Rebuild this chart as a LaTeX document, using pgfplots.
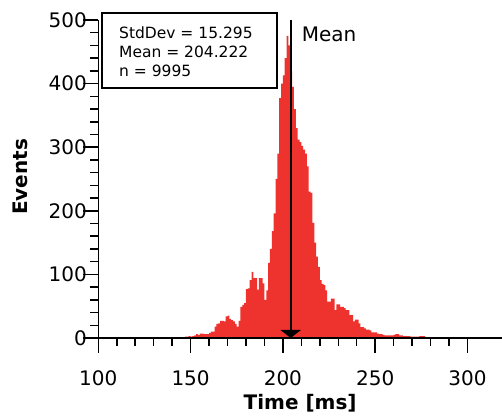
\documentclass[border=0pt]{standalone}
\usepackage{pgfplots}
\pgfplotsset{compat=1.18}
\usepackage{fontspec}
\setmainfont{DejaVu Sans}
\usetikzlibrary{arrows.meta}
\definecolor{histred}{RGB}{238,50,46}
\begin{document}
\begin{tikzpicture}
\begin{axis}[
  scale only axis,
  width=403.7pt, height=318pt,
  xmin=100, xmax=318.7, ymin=0, ymax=500,
  axis lines=left,
  axis line style={-, line width=1.5pt, black},
  every tick/.style={line width=1.5pt, black},
  tick align=outside,
  major tick length=15pt,
  minor tick length=8pt,
  xtick={100,150,200,250,300},
  ytick={0,100,200,300,400,500},
  minor x tick num=4,
  minor y tick num=4,
  /pgf/number format/assume math mode=true,
  tick label style={font=\fontsize{20}{24}\selectfont},
  xticklabel style={yshift=-14pt},
  yticklabel style={xshift=7pt},
  xlabel={Time [ms]},
  ylabel={Events},
  label style={font=\fontsize{20}{24}\selectfont\bfseries},
  xlabel style={at={([yshift=-72pt]axis description cs:0.5,0)}, anchor=base},
  ylabel style={at={([xshift=-71pt,yshift=2pt]axis description cs:0,0.5)}, anchor=base, rotate=0},
  clip=false,
  axis on top,
]
\addplot[const plot mark left, fill=histred, draw=none] coordinates {
(100,0) (101,0) (102,0) (103,0) (104,0) (105,0) (106,0) (107,0) (108,1) (109,0)
(110,0) (111,0) (112,0) (113,0) (114,1) (115,1) (116,0) (117,1) (118,0) (119,1)
(120,0) (121,0) (122,0) (123,0) (124,0) (125,0) (126,0) (127,0) (128,1) (129,0)
(130,0) (131,0) (132,0) (133,0) (134,0) (135,0) (136,1) (137,0) (138,0) (139,0)
(140,1) (141,0) (142,1) (143,1) (144,1) (145,1) (146,1) (147,2) (148,2) (149,3)
(150,2) (151,3) (152,4) (153,6) (154,5) (155,7) (156,7) (157,6) (158,6) (159,6)
(160,8) (161,10) (162,10) (163,18) (164,22) (165,23) (166,27) (167,27) (168,26) (169,34)
(170,35) (171,30) (172,28) (173,26) (174,22) (175,18) (176,27) (177,49) (178,52) (179,55)
(180,77) (181,78) (182,91) (183,104) (184,94) (185,94) (186,76) (187,94) (188,94) (189,86)
(190,60) (191,75) (192,118) (193,140) (194,168) (195,196) (196,250) (197,290) (198,377) (199,400)
(200,413) (201,440) (202,475) (203,460) (204,420) (205,395) (206,360) (207,330) (208,312) (209,308)
(210,302) (211,296) (212,290) (213,270) (214,230) (215,228) (216,181) (217,150) (218,128) (219,112)
(220,91) (221,85) (222,83) (223,75) (224,57) (225,57) (226,62) (227,62) (228,44) (229,53)
(230,53) (231,49) (232,49) (233,47) (234,44) (235,44) (236,36) (237,36) (238,26) (239,29)
(240,29) (241,23) (242,17) (243,17) (244,15) (245,13) (246,13) (247,12) (248,9) (249,9)
(250,9) (251,7) (252,6) (253,6) (254,5) (255,4) (256,4) (257,4) (258,4) (259,4)
(260,5) (261,6) (262,6) (263,4) (264,4) (265,3) (266,3) (267,3) (268,3) (269,2)
(270,2) (271,2) (272,2) (273,2) (274,3) (275,3) (276,3) (277,1) (278,1) (279,1)
(280,1) (281,1) (282,1) (283,1) (284,1) (285,0) (286,0) (287,0) (288,0) (289,0)
(290,1) (291,0) (292,0) (293,0) (294,0) (295,0) (296,0) (297,0) (298,0) (299,0)
(300,0)
} \closedcycle;
\addplot[black, line width=1.8pt, -{Triangle[width=20pt,length=8pt]}] coordinates {(204.222,500) (204.222,0)};
\node[anchor=base west, inner sep=0pt, font=\fontsize{20}{24}\selectfont] at ([xshift=11pt,yshift=-21.7pt]axis cs:204.222,500) {Mean};
\draw[line width=1.5pt] (axis cs:102.0,511) rectangle (axis cs:196.8,393.1);
\node[anchor=base west, inner sep=0pt, font=\fontsize{15.5}{19}\selectfont] at (axis cs:111.2,470.9) {StdDev = 15.295};
\node[anchor=base west, inner sep=0pt, font=\fontsize{15.5}{19}\selectfont] at (axis cs:111.2,441.0) {Mean = 204.222};
\node[anchor=base west, inner sep=0pt, font=\fontsize{15.5}{19}\selectfont] at (axis cs:111.2,411.2) {n = 9995};
\end{axis}
\pgfresetboundingbox
\path ([shift={(-98.3pt,-78pt)}]current axis.south west) rectangle ([shift={(0pt,20pt)}]current axis.north east);
\end{tikzpicture}
\end{document}
